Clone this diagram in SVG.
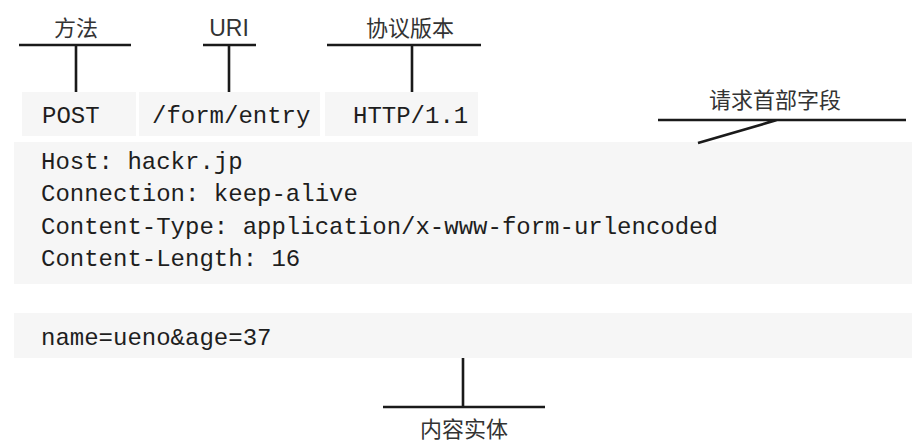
<svg xmlns="http://www.w3.org/2000/svg" width="921" height="446" viewBox="0 0 921 446">
<style>
.bg{fill:#f6f6f6}
.code{font-family:"Liberation Mono","Courier New",monospace;font-size:24px;fill:#1e1e1e}
.lbl{font-family:"Noto Sans CJK SC","Noto Sans",sans-serif;font-size:22px;fill:#333;text-anchor:middle}
.ln{stroke:#1a1a1a;stroke-width:2.6;fill:none}
</style>
<rect width="921" height="446" fill="#ffffff"/>
<g id="request-line">
<rect class="bg" x="22" y="92" width="114" height="44"/>
<rect class="bg" x="139" y="92" width="181" height="44"/>
<rect class="bg" x="325" y="92" width="153" height="44"/>
<text class="code" x="42" y="123">POST</text>
<text class="code" x="152" y="123">/form/entry</text>
<text class="code" x="353" y="123">HTTP/1.1</text>
</g>
<g id="headers">
<rect class="bg" x="14" y="142" width="898" height="142"/>
<text class="code" x="41" y="169">Host: hackr.jp</text>
<text class="code" x="41" y="201">Connection: keep-alive</text>
<text class="code" x="41" y="234">Content-Type: application/x-www-form-urlencoded</text>
<text class="code" x="41" y="266">Content-Length: 16</text>
</g>
<g id="body">
<rect class="bg" x="14" y="313" width="898" height="45"/>
<text class="code" x="41" y="345">name=ueno&amp;age=37</text>
</g>
<g id="label-method"><text class="lbl" x="76" y="36">方法</text></g>
<g id="label-uri"><text class="lbl" x="229" y="36" style="font-family:'Liberation Sans','Noto Sans',sans-serif;font-size:23px">URI</text></g>
<g id="label-version"><text class="lbl" x="410" y="36">协议版本</text></g>
<g id="label-headers"><text class="lbl" x="775" y="108">请求首部字段</text></g>
<g id="label-body"><text class="lbl" x="464" y="437">内容实体</text></g>
<g id="connectors">
<path class="ln" d="M19 45H131M76 45V92"/>
<path class="ln" d="M203 45H256M229 45V92"/>
<path class="ln" d="M327 45H481M412 45V92"/>
<path class="ln" d="M658 120H906M777 120L698 143"/>
<path class="ln" d="M463 358V407M383 407H545"/>
</g>
</svg>
